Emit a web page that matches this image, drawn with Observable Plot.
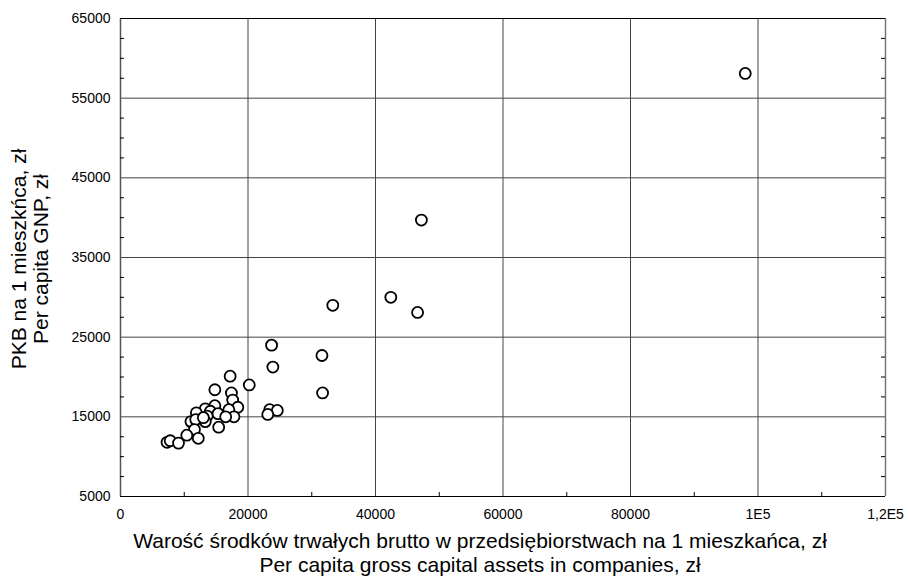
<!DOCTYPE html>
<html>
<head>
<meta charset="utf-8">
<script src="https://cdn.jsdelivr.net/npm/d3@7"></script>
<script src="https://cdn.jsdelivr.net/npm/@observablehq/plot@0.6"></script>
<style>
  html, body { margin: 0; padding: 0; background: #fff; }
  #chart svg { display: block; }
  #chart svg g text { font-size: 14px; font-family: 'Liberation Sans', Arial, sans-serif; fill: #000; }
</style>
</head>
<body>
<div id="chart"></div>
<script>
// Per capita gross capital assets in companies (zł)
const assets = [
  98000, 47200, 33300, 42400, 46600, 31600, 31700,
  23700, 23900, 17200, 20200, 14800, 17400, 17600, 18400, 17000, 14800,
  13300, 14100, 11900, 13600, 15300, 17800, 16500, 23400, 24600, 23100,
  11050, 11800, 13300, 11600, 15400, 10400, 12200, 7300, 7800, 9100, 13000
];
// Per capita GNP (zł)
const gnp = [
  58100, 39700, 29000, 30000, 28100, 22700, 18000,
  24000, 21250, 20100, 19000, 18400, 18000, 17100, 16200, 15900, 16400,
  16000, 15700, 15500, 15100, 15400, 15000, 15000, 15900, 15800, 15300,
  14400, 14650, 14400, 13400, 13700, 12700, 12300, 11800, 12000, 11700, 14900
];

const xTicks = [0, 20000, 40000, 60000, 80000, 100000, 120000];
const xTickLabels = ["0", "20000", "40000", "60000", "80000", "1E5", "1,2E5"];
const yTicks = [5000, 15000, 25000, 35000, 45000, 55000, 65000];
const yTickLabels = ["5000", "15000", "25000", "35000", "45000", "55000", "65000"];
const xMinor = [10000, 30000, 50000, 70000, 90000, 110000];
const yMinor = [7500, 10000, 12500, 17500, 20000, 22500, 27500, 30000, 32500,
                37500, 40000, 42500, 47500, 50000, 52500, 57500, 60000, 62500];

const xTitle = ["Warość środków trwałych brutto w przedsiębiorstwach na 1 mieszkańca, zł",
                "Per capita gross capital assets in companies, zł"];
const yTitle = ["PKB na 1 mieszkńca, zł", "Per capita GNP, zł"];

const data = assets.map((a, i) => ({x: a, y: gnp[i]}));
const xDom = [xTicks[0], xTicks[xTicks.length - 1]];
const yDom = [yTicks[0], yTicks[yTicks.length - 1]];

const chart = Plot.plot({
  width: 908,
  height: 576,
  marginLeft: 120,
  marginRight: 23,
  marginTop: 18,
  marginBottom: 80,
  style: {fontFamily: "'Liberation Sans', Arial, sans-serif", fontSize: "14px", background: "#fff", color: "#000"},
  x: {
    domain: xDom,
    ticks: xTicks,
    tickFormat: d => xTickLabels[xTicks.indexOf(d)],
    tickSize: 0,
    tickPadding: 13,
    label: null
  },
  y: {
    domain: yDom,
    ticks: yTicks,
    tickFormat: d => yTickLabels[yTicks.indexOf(d)],
    tickSize: 0,
    tickPadding: 10,
    label: null
  },
  marks: [
    // grid
    Plot.ruleX(xTicks.slice(1, -1), {stroke: "#444", strokeWidth: 1}),
    Plot.ruleY(yTicks.slice(1, -1), {stroke: "#444", strokeWidth: 1}),
    // frame
    Plot.ruleX([xDom[0]], {stroke: "#555", strokeWidth: 1.5}),
    Plot.ruleX([xDom[1]], {stroke: "#777", strokeWidth: 1.5}),
    Plot.ruleY([yDom[0]], {stroke: "#000", strokeWidth: 1.2}),
    Plot.ruleY([yDom[1]], {stroke: "#000", strokeWidth: 1.2}),
    // minor ticks (inward)
    Plot.ruleX(xMinor, {x: d => d, y1: yDom[0], y2: yDom[0], insetTop: 0, insetBottom: 4, stroke: "#000"}),
    Plot.ruleY(yMinor, {y: d => d, x1: xDom[0], x2: xDom[0], insetLeft: 0, insetRight: -4, stroke: "#000"}),
    Plot.ruleY(yMinor, {y: d => d, x1: xDom[1], x2: xDom[1], insetLeft: -4, insetRight: 0, stroke: "#000"}),
    // points
    Plot.dot(data, {x: "x", y: "y", r: 5.5, fill: "#fff", stroke: "#000", strokeWidth: 1.8})
  ]
});

document.getElementById("chart").appendChild(chart);

const svg = d3.select(chart);
const tf = "'Liberation Sans', Arial, sans-serif";
const xc = 480;
svg.append("text")
  .attr("x", xc).attr("y", 548)
  .attr("text-anchor", "middle").attr("font-family", tf).attr("font-size", 21).attr("fill", "#000")
  .text(xTitle[0]);
svg.append("text")
  .attr("x", xc).attr("y", 572)
  .attr("text-anchor", "middle").attr("font-family", tf).attr("font-size", 21).attr("fill", "#000")
  .text(xTitle[1]);
const yc = 259;
svg.append("text")
  .attr("transform", `translate(26,${yc}) rotate(-90)`)
  .attr("text-anchor", "middle").attr("font-family", tf).attr("font-size", 21).attr("fill", "#000")
  .text(yTitle[0]);
svg.append("text")
  .attr("transform", `translate(48,${yc}) rotate(-90)`)
  .attr("text-anchor", "middle").attr("font-family", tf).attr("font-size", 21).attr("fill", "#000")
  .text(yTitle[1]);
</script>
</body>
</html>
